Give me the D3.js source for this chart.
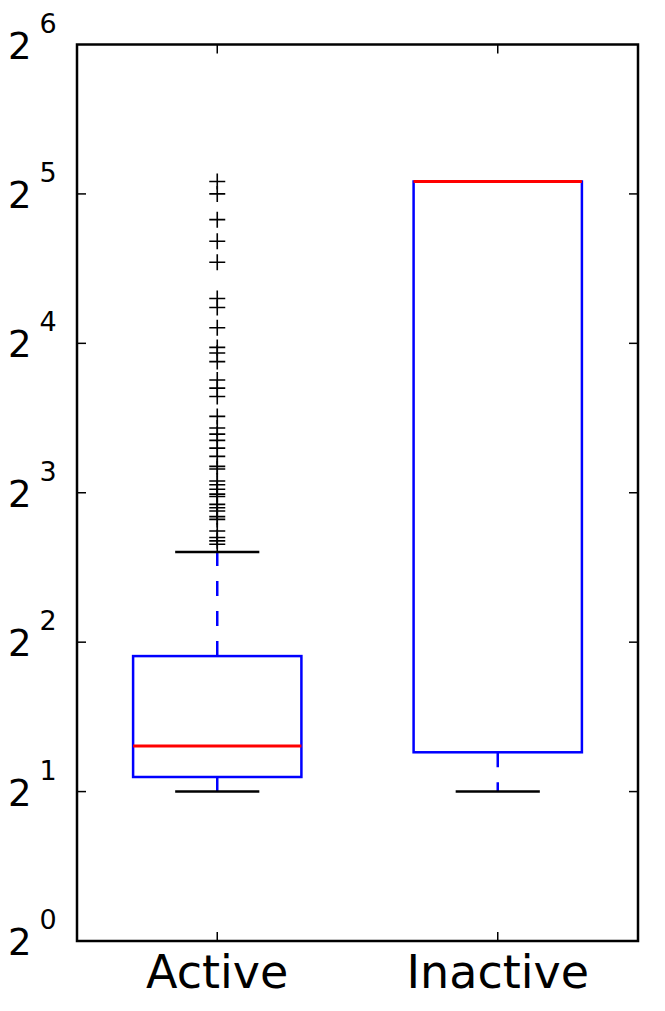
<!DOCTYPE html>
<html>
<head>
<meta charset="utf-8">
<script src="https://cdn.jsdelivr.net/npm/d3@7"></script>
<style>
  body { margin: 0; background: #fff; }
  svg { display: block; font-family: "DejaVu Sans", sans-serif; }
</style>
</head>
<body>
<svg id="chart" width="665" height="1011"></svg>
<script>
// ----------------------
// data
// ----------------------
const categories   = ["Active", "Inactive"];
const whiskerLow   = [2, 2];
const q1           = [2.14, 2.40];
const medians      = [2.47, 33.9];
const q3           = [3.75, 33.9];
const whiskerHigh  = [6.08, 33.9];

// fliers of the "Active" group
const activeOutliers = [
  33.9, 32.0, 28.4, 25.7, 23.3, 19.7, 18.9, 17.2, 15.7, 15.3,
  14.7, 13.5, 13.0, 12.5, 11.4, 10.8, 10.5, 10.2, 9.84, 9.47,
  9.04, 8.93, 8.45, 8.30, 8.13, 7.95, 7.86, 7.58, 7.46, 7.35,
  7.16, 7.07, 6.70, 6.50, 6.40, 6.30
];
const outliers = [activeOutliers, []];

const yTickExponents = [0, 1, 2, 3, 4, 5, 6];

// ----------------------
// layout
// ----------------------
const svg = d3.select("#chart");
const plot = { left: 77, right: 638, top: 44.5, bottom: 941 };

const x = d3.scaleLinear().domain([0.5, 2.5]).range([plot.left, plot.right]);
const y = d3.scaleLog().base(2).domain([1, 64]).range([plot.bottom, plot.top]);

const boxW = x(0.3) - x(0);   // half width of a box
const capW = x(0.15) - x(0);  // half width of a cap
const lw = 2.5;

const groups = categories.map((c, i) => ({
  name: c, pos: i + 1,
  lo: whiskerLow[i], q1: q1[i], med: medians[i], q3: q3[i], hi: whiskerHigh[i],
  fliers: outliers[i]
}));

// ----------------------
// boxes
// ----------------------
const g = svg.append("g");

groups.forEach(d => {
  const cx = x(d.pos);

  // whiskers, dashed, drawn from the box outwards
  g.append("line")
    .attr("x1", cx).attr("x2", cx)
    .attr("y1", y(d.q1)).attr("y2", y(d.lo))
    .attr("stroke", "#0000ff").attr("stroke-width", lw)
    .attr("stroke-dasharray", "15,15");
  g.append("line")
    .attr("x1", cx).attr("x2", cx)
    .attr("y1", y(d.q3)).attr("y2", y(d.hi))
    .attr("stroke", "#0000ff").attr("stroke-width", lw)
    .attr("stroke-dasharray", "15,15");

  // caps
  [d.lo, d.hi].forEach(v => {
    g.append("line")
      .attr("x1", cx - capW).attr("x2", cx + capW)
      .attr("y1", y(v)).attr("y2", y(v))
      .attr("stroke", "#000").attr("stroke-width", lw);
  });

  // box
  g.append("rect")
    .attr("x", cx - boxW)
    .attr("y", y(d.q3))
    .attr("width", boxW * 2)
    .attr("height", y(d.q1) - y(d.q3))
    .attr("fill", "none")
    .attr("stroke", "#0000ff").attr("stroke-width", lw);

  // median
  g.append("line")
    .attr("x1", cx - boxW).attr("x2", cx + boxW)
    .attr("y1", y(d.med)).attr("y2", y(d.med))
    .attr("stroke", "#ff0000").attr("stroke-width", lw + 0.5);

  // fliers as "+"
  const m = 8;
  g.selectAll(null)
    .data(d.fliers)
    .enter()
    .append("path")
    .attr("d", v => `M${cx - m},${y(v)}H${cx + m}M${cx},${y(v) - m}V${y(v) + m}`)
    .attr("stroke", "#000")
    .attr("stroke-width", 1.6)
    .attr("fill", "none");
});

// ----------------------
// frame + ticks
// ----------------------
svg.append("rect")
  .attr("x", plot.left).attr("y", plot.top)
  .attr("width", plot.right - plot.left)
  .attr("height", plot.bottom - plot.top)
  .attr("fill", "none")
  .attr("stroke", "#000").attr("stroke-width", lw);

const tickLen = 9;

yTickExponents.forEach(e => {
  const ty = y(Math.pow(2, e));
  if (e > 0 && e < 6) {
    svg.append("line")
      .attr("x1", plot.left).attr("x2", plot.left + tickLen)
      .attr("y1", ty).attr("y2", ty)
      .attr("stroke", "#000").attr("stroke-width", 1.5);
    svg.append("line")
      .attr("x1", plot.right - tickLen).attr("x2", plot.right)
      .attr("y1", ty).attr("y2", ty)
      .attr("stroke", "#000").attr("stroke-width", 1.5);
  }
  const t = svg.append("text")
    .attr("x", 8)
    .attr("y", ty + 14)
    .attr("fill", "#000");
  t.append("tspan").attr("font-size", 37).text("2");
  t.append("tspan").attr("font-size", 27).attr("dx", 8).attr("dy", -26).text(e);
});

groups.forEach(d => {
  const cx = x(d.pos);
  svg.append("line")
    .attr("x1", cx).attr("x2", cx)
    .attr("y1", plot.bottom).attr("y2", plot.bottom - tickLen)
    .attr("stroke", "#000").attr("stroke-width", 1.5);
  svg.append("line")
    .attr("x1", cx).attr("x2", cx)
    .attr("y1", plot.top).attr("y2", plot.top + tickLen)
    .attr("stroke", "#000").attr("stroke-width", 1.5);
  svg.append("text")
    .attr("x", cx)
    .attr("y", 988)
    .attr("text-anchor", "middle")
    .attr("font-size", 46)
    .attr("fill", "#000")
    .text(d.name);
});
</script>
</body>
</html>
